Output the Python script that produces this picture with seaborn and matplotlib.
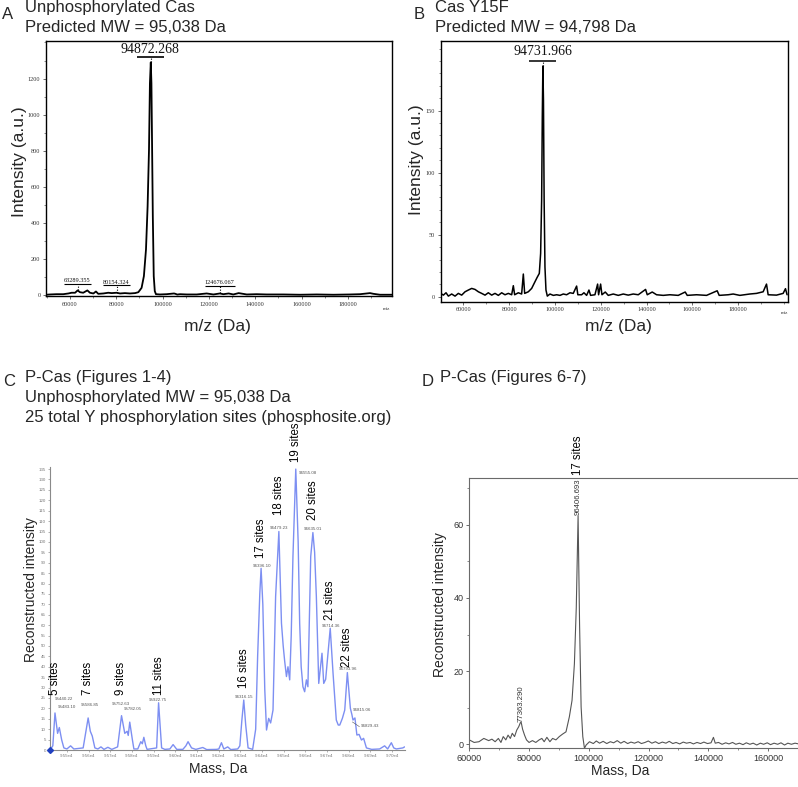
import matplotlib
matplotlib.use("Agg")
import matplotlib.pyplot as plt
import seaborn as sns
import pandas as pd
from matplotlib.ticker import MultipleLocator

# ---------------- Panel A: Unphosphorylated Cas ----------------
a_mass = [49700, 51400, 54200, 57100, 59300, 60700, 62200, 63289, 64300, 65700, 67500, 68600,
          70100, 71200, 72200, 74400, 76500, 78000, 80154, 81600, 83700, 85900, 88100, 89500,
          90900, 91900, 92800, 93500, 94100, 94500, 94872, 95150, 95450, 95750, 96150, 96600,
          97100, 98900, 101700, 104900, 105500, 106300, 107500, 110400, 114700, 119000, 121900,
          124676, 126200, 128500, 130500, 132800, 136300, 140600, 144900, 152100, 159300,
          166500, 173700, 180900, 185200, 188100, 189500, 191000, 193800, 199000]
a_int = [4, 5.5, 7, 7, 11, 15, 15, 28, 18, 15, 28, 15,
         11, 22, 9, 11, 15, 13, 15, 11, 13, 11, 13, 18,
         42, 107, 254, 493, 806, 1174, 1290, 1174, 806, 438, 107, 24,
         7, 5.5, 7, 11, 9, 5, 7, 5.5, 5.5, 11, 5.5,
         11, 7, 11, 5.5, 13, 5.5, 7, 5.5, 5.5, 4,
         5.5, 4, 5.5, 7, 11, 13, 9, 4, 4]
a_peak_mass = [94872.268, 63289.355, 80154.324, 124676.067]
a_peak_height = [1290, 28, 15, 11]
a_peak_label = ["94872.268", "63289.355", "80154.324", "124676.067"]
a_xticks = [60000, 80000, 100000, 120000, 140000, 160000, 180000]
a_yticks = [0, 200, 400, 600, 800, 1000, 1200]

# ---------------- Panel B: Cas Y15F ----------------
b_mass = [50100, 51270, 52430, 53450, 54900, 56360, 57800, 59270, 60730, 62180, 63640, 65090,
          66550, 68000, 69460, 70900, 72370, 73820, 75280, 76730, 78190, 79640, 81100, 81820,
          82400, 84000, 85460, 86190, 86770, 88370, 89830, 91280, 92200, 93170, 93750, 94190,
          94480, 94732, 94990, 95280, 95640, 96080, 96670, 97830, 99290, 100740, 102200, 103650,
          105100, 106560, 108000, 109470, 110000, 111650, 112670, 113840, 114850, 115580, 117470,
          118640, 119070, 119950, 120530, 121980, 123290, 125470, 127660, 129840, 132020, 134200,
          136390, 139590, 140320, 142500, 144390, 147300, 150210, 153850, 156900, 157780, 161850,
          166220, 170870, 171740, 175670, 177860, 180770, 185130, 188040, 190950, 192410, 193130,
          196770, 199680, 200700, 201400]
b_int = [2.7, 1.3, 3.2, 0.5, 2.2, 0.5, 2.7, 1.3, 4.0, 5.4, 6.7, 5.9,
         4.0, 2.7, 1.3, 3.2, 1.3, 2.7, 1.1, 3.2, 1.6, 2.7, 1.6, 8.9,
         1.6, 3.2, 2.2, 18.3, 2.7, 4.0, 6.7, 12.1, 15.5, 18.8, 35, 78,
         145, 186, 158, 78, 24, 5.4, 0.5, 2.2, 1.1, 1.6, 1.1, 2.2,
         1.6, 3.2, 2.7, 8.6, 1.6, 1.6, 3.2, 1.1, 5.4, 1.1, 1.6,
         10.2, 1.6, 10.2, 1.6, 3.8, 1.1, 2.2, 1.1, 2.2, 1.3, 2.2,
         1.6, 5.9, 1.6, 3.8, 1.6, 1.1, 1.6, 1.1, 3.8, 1.1, 1.6,
         1.1, 4.8, 1.1, 1.6, 2.2, 1.1, 2.2, 2.7, 4.0, 10.2, 1.6,
         1.3, 2.7, 6.5, 1.6]
b_peak_mass = [94731.966]
b_peak_height = [186]
b_peak_label = ["94731.966"]
b_xticks = [60000, 80000, 100000, 120000, 140000, 160000, 180000]
b_yticks = [0, 50, 100, 150]

# ---------------- Panel C: P-Cas (Figures 1-4) ----------------
c_mass = [95422, 95435, 95445, 95457, 95465, 95476, 95486, 95500, 95517, 95532, 95575, 95588,
          95598, 95608, 95617, 95629, 95643, 95657, 95671, 95689, 95707, 95734, 95744, 95752,
          95760, 95767, 95778, 95783, 95790, 95802, 95809, 95827, 95841, 95848, 95855, 95864,
          95870, 95914, 95923, 95937, 95952, 95975, 95990, 96007, 96035, 96049, 96059, 96067,
          96075, 96095, 96127, 96145, 96190, 96201, 96213, 96224, 96242, 96256, 96288, 96298,
          96307, 96316, 96325, 96336, 96357, 96371, 96380, 96390, 96396, 96404, 96413, 96421,
          96431, 96440, 96451, 96463, 96478, 96490, 96498, 96505, 96513, 96520, 96528, 96535,
          96543, 96556, 96567, 96574, 96581, 96589, 96597, 96605, 96612, 96618, 96625, 96635,
          96643, 96651, 96657, 96662, 96670, 96677, 96685, 96694, 96705, 96715, 96728, 96736,
          96743, 96752, 96759, 96771, 96782, 96789, 96794, 96800, 96808, 96815, 96820, 96829,
          96838, 96848, 96859, 96869, 96882, 96906, 96943, 96966, 96980, 96997, 97008, 97020,
          97050, 97058]
c_int = [0, 2, 17.8, 8, 10.8, 4.8, 1, 0.5, 2, 0.5, 1, 9,
         15.4, 9, 6.7, 1, 0.5, 1.5, 0.3, 1.3, 0.3, 1.5, 10, 16.5,
         12, 8, 9, 7, 13.4, 5, 0.5, 0.5, 4, 3, 6.1, 2,
         0.3, 1, 22.7, 1, 0.3, 0.5, 2.6, 0.3, 0.3, 2, 4, 2.5,
         1, 0.3, 1.2, 0.2, 0.3, 0.5, 3.5, 0.5, 1.5, 0.2, 0.5, 2,
         14, 24, 12, 1, 0.3, 10, 44.9, 75, 87.3, 70, 29, 9.6,
         15.2, 13, 19.2, 73.7, 105, 60.9, 50, 42.5, 35.3, 40, 33.7, 55,
         93, 135, 100, 60.9, 40, 30.4, 28, 33.7, 30.4, 60, 93, 104.5,
         95, 73.7, 50, 32, 40, 46.5, 32, 34, 47, 58.5, 36.9, 25,
         14.4, 12, 12, 15.2, 19.2, 30, 37.2, 30, 20, 17, 14.4, 15.4,
         7.2, 7.5, 4.8, 5.6, 1, 0.3, 0.5, 2, 0.5, 3.5, 1, 0.5,
         1, 1.5]
c_peak_mass = [95440.22, 95483.10, 95586.85, 95752.63, 95782.05, 95922.75, 96316.15, 96396.10,
               96479.23, 96555.08, 96635.01, 96714.36, 96793.96, 96815.06, 96829.43]
c_peak_label = ["95440.22", "95483.10", "95586.85", "95752.63", "95782.05", "95922.75",
                "96316.15", "96396.10", "96479.23", "96555.08", "96635.01", "96714.36",
                "96793.96", "96815.06", "96829.43"]
c_site_mass = [95445, 95598, 95750, 95923, 96316, 96396, 96478, 96556, 96635, 96715, 96794]
c_site_label = ["5 sites", "7 sites", "9 sites", "11 sites", "16 sites", "17 sites",
                "18 sites", "19 sites", "20 sites", "21 sites", "22 sites"]
c_xticks = [95500, 95600, 95700, 95800, 95900, 96000, 96100, 96200, 96300, 96400, 96500,
            96600, 96700, 96800, 96900, 97000]
c_xticklabels = ["9.55e4", "9.56e4", "9.57e4", "9.58e4", "9.59e4", "9.60e4", "9.61e4",
                 "9.62e4", "9.63e4", "9.64e4", "9.65e4", "9.66e4", "9.67e4", "9.68e4",
                 "9.69e4", "9.70e4"]
c_yticks = [0, 5, 10, 15, 20, 25, 30, 35, 40, 45, 50, 55, 60, 65, 70, 75, 80, 85, 90, 95,
            100, 105, 110, 115, 120, 125, 130, 135]

# ---------------- Panel D: P-Cas (Figures 6-7) ----------------
d_mass = [60000, 61620, 63240, 64860, 66490, 67570, 68650, 69730, 70590, 71350, 72220, 72970,
          73730, 74380, 75140, 75890, 76540, 77080, 77363, 77840, 78490, 79140, 80000, 81120,
          82250, 83370, 84270, 85060, 85960, 86970, 87870, 88990, 90110, 91240, 92360, 93480,
          94380, 95170, 95800, 96407, 96900, 97420, 97980, 98540, 99100, 100220, 101500, 102500,
          103600, 104800, 106000, 107200, 108300, 109500, 110700, 111800, 113000, 114100, 115300,
          116500, 117600, 118800, 119900, 121100, 122300, 123400, 124600, 125800, 126900, 128100,
          129200, 130400, 131600, 132700, 133900, 135000, 136200, 137400, 138500, 139700, 140900,
          141700, 142300, 143400, 144600, 145800, 146900, 148100, 149200, 150400, 151600, 152700,
          153900, 155000, 156200, 157400, 158500, 159700, 160800, 162000, 163200, 164300, 165500,
          166600, 167800, 169000, 170200]
d_int = [1.2, 0.5, 0.7, 1.6, 1.0, 1.4, 0.7, 1.6, 0.5, 2.1, 1.2, 2.5,
         1.6, 3.0, 2.1, 3.9, 4.8, 5.9, 6.0, 4.1, 2.5, 1.2, 0.5, 1.0,
         0.5, 1.2, 1.6, 0.7, 1.9, 0.7, 1.6, 1.2, 2.1, 2.8, 3.4, 7.5,
         12.0, 22.0, 37.4, 62.5, 32.9, 10.2, 2.1, -1.1, -0.2, 0.7, 0.2, 0.9,
         0.3, 0.8, 0.2, 0.7, 0.4, 1.0, 0.3, 0.8, 0.2, 0.6, 0.3,
         0.7, 0.2, 0.5, 0.9, 0.3, 0.7, 0.2, 0.6, 0.3, 0.8, 0.2,
         0.5, 0.1, 0.6, 0.3, 0.5, 0.1, 0.5, 0.2, 0.6, 0.2, 0.4,
         1.9, 0.3, 0.5, 0.0, 0.4, 0.1, 0.5, 0.0, 0.3, -0.1, 0.4,
         0.0, 0.3, -0.2, 0.3, 0.0, 0.4, -0.1, 0.3, 0.0, 0.4, -0.2,
         0.3, 0.0, 0.3, 0.1]
d_peak_mass = [96406.693, 77363.290]
d_peak_label = ["96406.693", "77363.290"]
d_xticks = [60000, 80000, 100000, 120000, 140000, 160000]
d_yticks = [0, 20, 40, 60]

# ---------------- Figure ----------------
sns.set_style("ticks")
plt.rcParams["font.family"] = ["Liberation Sans", "DejaVu Sans"]
W, H = 798, 787
fig = plt.figure(figsize=(W / 100, H / 100), dpi=100)


def fx(px):
    return px / W


def fy(py):
    return 1 - py / H


axA = fig.add_axes([fx(46), fy(296), 346 / W, 255 / H])
axB = fig.add_axes([fx(440.7), fy(301.7), 347.3 / W, 261 / H])
axC = fig.add_axes([fx(50), fy(750), 355 / W, 283 / H])
axD = fig.add_axes([fx(469.3), fy(748.3), 328.7 / W, 270.3 / H])

serif = "Liberation Serif"

# ---- A ----
dfA = pd.DataFrame({"mass": a_mass, "intensity": a_int})
sns.lineplot(data=dfA, x="mass", y="intensity", ax=axA, color="black", linewidth=1.3,
             estimator=None, sort=False)
axA.set_xlim(49640, 199000)
axA.set_ylim(-3, 1408)
axA.set_xticks(a_xticks, [str(t) for t in a_xticks], fontfamily=serif)
axA.set_yticks(a_yticks, [str(t) for t in a_yticks], fontfamily=serif)
axA.xaxis.set_minor_locator(MultipleLocator(10000))
axA.yaxis.set_minor_locator(MultipleLocator(100))

a_bar_y = [1317, 64, 57, 53]
a_bar_half = [5750, 5700, 5800, 6400]
a_font = [10, 4.5, 4.5, 4.5]
a_bar_lw = [1.2, 0.8, 0.8, 0.8]
for m, h, lab, by, hw, fs, lw in zip(a_peak_mass, a_peak_height, a_peak_label, a_bar_y,
                                     a_bar_half, a_font, a_bar_lw):
    axA.hlines(by, m - hw, m + hw, color="black", lw=lw)
    axA.vlines(m, h, by, color="black", lw=0.8, linestyles=(0, (1, 1.5)))
    axA.text(m - 300, by + (10 if fs > 5 else 3), lab, ha="center", va="bottom",
             fontsize=fs, fontfamily=serif, color="#111")

# ---- B ----
dfB = pd.DataFrame({"mass": b_mass, "intensity": b_int})
sns.lineplot(data=dfB, x="mass", y="intensity", ax=axB, color="black", linewidth=1.1,
             estimator=None, sort=False)
axB.set_xlim(50100, 201800)
axB.set_ylim(-4, 206.4)
axB.set_xticks(b_xticks, [str(t) for t in b_xticks], fontfamily=serif)
axB.set_yticks(b_yticks, [str(t) for t in b_yticks], fontfamily=serif)
axB.xaxis.set_minor_locator(MultipleLocator(10000))
axB.yaxis.set_minor_locator(MultipleLocator(10))
for m, h, lab in zip(b_peak_mass, b_peak_height, b_peak_label):
    axB.hlines(190.3, m - 5900, m + 5900, color="black", lw=1.1)
    axB.vlines(m, h, 190.3, color="black", lw=0.8, linestyles=(0, (1, 1.5)))
    axB.text(m + 150, 192.3, lab, ha="center", va="bottom", fontsize=10,
             fontfamily=serif, color="#111")

for ax in (axA, axB):
    for s in ax.spines.values():
        s.set_visible(True)
        s.set_color("black")
        s.set_linewidth(1.0)
    ax.tick_params(which="major", direction="out", length=2, width=0.5, colors="#333",
                   labelsize=4.5, pad=2)
    ax.tick_params(which="minor", direction="out", length=1.2, width=0.4, colors="#333")
    ax.set_xlabel("")
    ax.set_ylabel("")

axA.set_ylabel("Intensity (a.u.)", fontsize=12.5, va="center")
axA.yaxis.set_label_coords((20 - 46) / 346, (296 - 162) / 255)
axA.set_xlabel("m/z (Da)", fontsize=12.5, va="center")
axA.xaxis.set_label_coords((217 - 46) / 346, (296 - 326) / 255)
axB.set_ylabel("Intensity (a.u.)", fontsize=12.5, va="center")
axB.yaxis.set_label_coords((417 - 440.7) / 347.3, (301.7 - 160) / 261)
axB.set_xlabel("m/z (Da)", fontsize=12.5, va="center")
axB.xaxis.set_label_coords((618 - 440.7) / 347.3, (301.7 - 326) / 261)
fig.text(fx(387), fy(309), "m/z", fontsize=3.5, fontfamily=serif, ha="center", va="center")
fig.text(fx(785), fy(313), "m/z", fontsize=3.5, fontfamily=serif, ha="center", va="center")

# ---- C ----
dfC = pd.DataFrame({"mass": c_mass, "intensity": c_int})
sns.lineplot(data=dfC, x="mass", y="intensity", ax=axC, color="#7d8ff2", linewidth=1.0,
             estimator=None, sort=False)
axC.set_xlim(95422, 97060)
axC.set_ylim(0, 136)
axC.set_xticks(c_xticks, c_xticklabels)
axC.set_yticks(c_yticks, [str(t) for t in c_yticks])
sns.despine(ax=axC)
for s in ("left", "bottom"):
    axC.spines[s].set_color("#8a8a8a")
    axC.spines[s].set_linewidth(0.8)
axC.tick_params(direction="out", length=1.5, width=0.4, colors="#777", labelsize=3.2, pad=1.5)
axC.set_xlabel("Mass, Da", fontsize=10, va="center")
axC.xaxis.set_label_coords((218.5 - 50) / 355, (750 - 769) / 283)
axC.set_ylabel("Reconstructed intensity", fontsize=10, va="center")
axC.yaxis.set_label_coords((31 - 50) / 355, (750 - 590) / 283)
axC.plot([axC.get_xlim()[0]], [0], marker="D", ms=3, color="#2040c0", clip_on=False, zorder=5)

c_lab_x_px = [55, 58.3, 89.5, 121, 132.5, 158.3, 244, 262, 279.5, 299, 313, 331.3, 348,
              352.7, 360.7]
c_lab_y_px = [699.3, 706.7, 705, 704, 709, 700, 696.7, 565.7, 528.3, 472.7, 529.3, 626,
              669.3, 710, 725.7]
c_lab_ha = ["left", "left", "center", "center", "center", "center", "center", "center",
            "center", "left", "center", "center", "center", "left", "left"]
for xp, yp, lab, ha in zip(c_lab_x_px, c_lab_y_px, c_peak_label, c_lab_ha):
    xd = 95500 + (xp - 67) * 4.61
    yd = (750 - yp) / 2.08
    axC.text(xd, yd, lab, ha=ha, va="center", fontsize=3.2, color="#555")
axC.plot([96817, 96850], [13.5, 11.2], color="#555", lw=0.4)

c_site_bottom = [26.4, 26.4, 26.4, 26.4, 29.8, 92.3, 113, 138.5, 110.6, 62.5, 39.9]
for m, lab, yb in zip(c_site_mass, c_site_label, c_site_bottom):
    axC.text(m, yb, lab, rotation=90, ha="center", va="bottom", fontsize=8.3,
             color="black", clip_on=False)

# ---- D ----
dfD = pd.DataFrame({"mass": d_mass, "intensity": d_int})
sns.lineplot(data=dfD, x="mass", y="intensity", ax=axD, color="#555555", linewidth=0.8,
             estimator=None, sort=False)
axD.set_xlim(60000, 170000)
axD.set_ylim(-1.1, 72.8)
axD.set_xticks(d_xticks, [str(t) for t in d_xticks])
axD.set_yticks(d_yticks, [str(t) for t in d_yticks])
axD.xaxis.set_minor_locator(MultipleLocator(10000))
axD.yaxis.set_minor_locator(MultipleLocator(10))
axD.spines["right"].set_visible(False)
for s in ("left", "bottom", "top"):
    axD.spines[s].set_visible(True)
    axD.spines[s].set_color("#6a6a6a")
    axD.spines[s].set_linewidth(0.8)
axD.tick_params(which="major", direction="out", length=2, width=0.5, colors="#333",
                labelsize=6.5, pad=2)
axD.tick_params(which="minor", direction="out", length=1.2, width=0.4, colors="#333")
axD.set_xlabel("Mass, Da", fontsize=10, va="center")
axD.xaxis.set_label_coords((620 - 469.3) / 328.7, (748.3 - 771) / 270.3)
axD.set_ylabel("Reconstructed intensity", fontsize=10, va="center")
axD.yaxis.set_label_coords((440 - 469.3) / 328.7, (748.3 - 605) / 270.3)

d_lab_bottom = [62.8, 6.2]
for m, lab, yb in zip(d_peak_mass, d_peak_label, d_lab_bottom):
    axD.text(m, yb, lab, rotation=90, ha="center", va="bottom", fontsize=5.6,
             color="#333", clip_on=False)
axD.text(96406.693, 73.6, "17 sites", rotation=90, ha="center", va="bottom", fontsize=8.3,
         color="black", clip_on=False)

# ---- Panel titles ----
tfs = 12
fig.text(fx(2), fy(19), "A", fontsize=tfs, va="baseline", ha="left")
fig.text(fx(25), fy(12), "Unphosphorylated Cas", fontsize=tfs, va="baseline", ha="left")
fig.text(fx(25), fy(32), "Predicted MW = 95,038 Da", fontsize=tfs, va="baseline", ha="left")
fig.text(fx(414), fy(19), "B", fontsize=tfs, va="baseline", ha="left")
fig.text(fx(435), fy(12), "Cas Y15F", fontsize=tfs, va="baseline", ha="left")
fig.text(fx(435), fy(32), "Predicted MW = 94,798 Da", fontsize=tfs, va="baseline", ha="left")
fig.text(fx(3), fy(386), "C", fontsize=tfs, va="baseline", ha="left")
fig.text(fx(25), fy(382), "P-Cas (Figures 1-4)", fontsize=tfs, va="baseline", ha="left")
fig.text(fx(25), fy(402), "Unphosphorylated MW = 95,038 Da", fontsize=tfs, va="baseline",
         ha="left")
fig.text(fx(25), fy(422), "25 total Y phosphorylation sites (phosphosite.org)", fontsize=tfs,
         va="baseline", ha="left")
fig.text(fx(422), fy(386), "D", fontsize=tfs, va="baseline", ha="left")
fig.text(fx(440), fy(382), "P-Cas (Figures 6-7)", fontsize=tfs, va="baseline", ha="left")

fig.savefig("out.png", dpi=100)
